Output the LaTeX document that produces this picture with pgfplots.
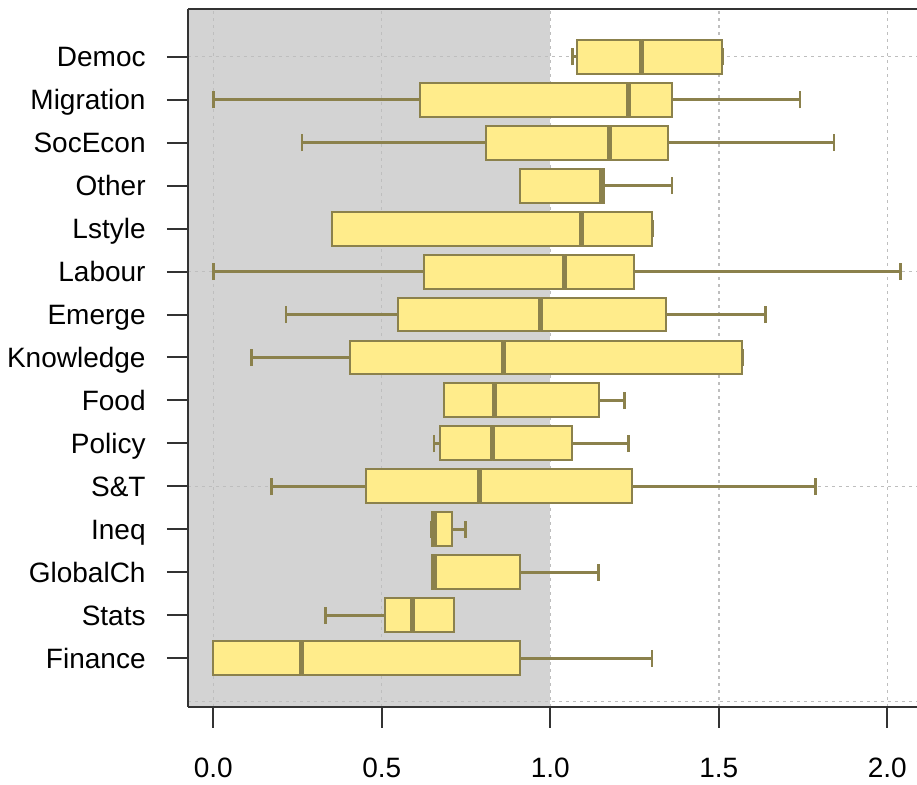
\documentclass[border=0pt]{standalone}
\usepackage{pgfplots}
\pgfplotsset{compat=1.18}
\usepgfplotslibrary{statistics}
\usepackage{fontspec}
\setmainfont{Liberation Sans}
\definecolor{boxfill}{HTML}{FFEC8B}
\definecolor{boxline}{HTML}{8B814C}
\definecolor{bggray}{HTML}{D3D3D3}
\definecolor{gridcol}{HTML}{BEBEBE}
\definecolor{axiscol}{HTML}{333333}
\begin{document}
\begin{tikzpicture}
\begin{axis}[
 scale only axis, width=364.5pt, height=349pt,
 xmin=-0.075, xmax=2.088, ymin=-0.133, ymax=16.11,
 axis x line*=bottom, axis y line*=left,
 axis on top,
 axis line style={line width=1pt, axiscol},
 tick align=outside, major tick length=10.5pt,
 tick style={line width=1pt, axiscol},
 xtick={0,0.5,1,1.5,2},
 x tick label style={/pgf/number format/fixed, /pgf/number format/fixed zerofill, /pgf/number format/precision=1},
 ytick={1,...,15},
 yticklabels={Finance, Stats, GlobalCh, Ineq, S\&T, Policy, Food, Knowledge, Emerge, Labour, Lstyle, Other, SocEcon, Migration, Democ},
 ticklabel style={font=\fontsize{14}{16}\selectfont, inner sep=0pt},
 yticklabel style={anchor=base east, xshift=-10.5pt, yshift=-5pt},
 xticklabel style={yshift=-15pt},
 /pgf/number format/assume math mode=true,
 boxplot/box extend=0.79, boxplot/whisker extend=0.4,
 boxplot/every median/.style={line width=2.5pt},
 boxplot/every whisker/.style={line width=1.4pt},
 boxplot/every box/.style={line width=1pt},
]
\fill[bggray] (axis cs:-0.075,-0.133) rectangle (axis cs:1,16.11);
\foreach \gx in {0,0.5,1,1.5,2} {
  \edef\tmp{\noexpand\draw[gridcol, line width=0.7pt, dash pattern=on 1.5pt off 2pt] (axis cs:\gx,-0.133) -- (axis cs:\gx,16.11);}\tmp
}
\foreach \gy in {0,5,10,15} {
  \edef\tmp{\noexpand\draw[gridcol, line width=0.7pt, dash pattern=on 1.5pt off 2pt] (axis cs:-0.075,\gy) -- (axis cs:2.088,\gy);}\tmp
}
\addplot[draw=boxline, fill=boxfill, boxplot prepared={draw position=1, lower whisker=0, lower quartile=0, median=0.262, upper quartile=0.910, upper whisker=1.302}] coordinates {};
\addplot[draw=boxline, fill=boxfill, boxplot prepared={draw position=2, lower whisker=0.334, lower quartile=0.511, median=0.591, upper quartile=0.714, upper whisker=0.714}] coordinates {};
\addplot[draw=boxline, fill=boxfill, boxplot prepared={draw position=3, lower whisker=0.650, lower quartile=0.650, median=0.657, upper quartile=0.910, upper whisker=1.142}] coordinates {};
\addplot[draw=boxline, fill=boxfill, boxplot prepared={draw position=4, lower whisker=0.648, lower quartile=0.648, median=0.655, upper quartile=0.709, upper whisker=0.749}] coordinates {};
\addplot[draw=boxline, fill=boxfill, boxplot prepared={draw position=5, lower whisker=0.173, lower quartile=0.452, median=0.791, upper quartile=1.243, upper whisker=1.788}] coordinates {};
\addplot[draw=boxline, fill=boxfill, boxplot prepared={draw position=6, lower whisker=0.655, lower quartile=0.673, median=0.827, upper quartile=1.065, upper whisker=1.231}] coordinates {};
\addplot[draw=boxline, fill=boxfill, boxplot prepared={draw position=7, lower whisker=0.685, lower quartile=0.685, median=0.833, upper quartile=1.143, upper whisker=1.219}] coordinates {};
\addplot[draw=boxline, fill=boxfill, boxplot prepared={draw position=8, lower whisker=0.114, lower quartile=0.406, median=0.862, upper quartile=1.570, upper whisker=1.570}] coordinates {};
\addplot[draw=boxline, fill=boxfill, boxplot prepared={draw position=9, lower whisker=0.216, lower quartile=0.548, median=0.970, upper quartile=1.343, upper whisker=1.639}] coordinates {};
\addplot[draw=boxline, fill=boxfill, boxplot prepared={draw position=10, lower whisker=0, lower quartile=0.626, median=1.041, upper quartile=1.248, upper whisker=2.038}] coordinates {};
\addplot[draw=boxline, fill=boxfill, boxplot prepared={draw position=11, lower whisker=0.352, lower quartile=0.352, median=1.093, upper quartile=1.303, upper whisker=1.303}] coordinates {};
\addplot[draw=boxline, fill=boxfill, boxplot prepared={draw position=12, lower whisker=0.910, lower quartile=0.910, median=1.153, upper quartile=1.159, upper whisker=1.361}] coordinates {};
\addplot[draw=boxline, fill=boxfill, boxplot prepared={draw position=13, lower whisker=0.263, lower quartile=0.808, median=1.177, upper quartile=1.350, upper whisker=1.842}] coordinates {};
\addplot[draw=boxline, fill=boxfill, boxplot prepared={draw position=14, lower whisker=0, lower quartile=0.613, median=1.231, upper quartile=1.362, upper whisker=1.741}] coordinates {};
\addplot[draw=boxline, fill=boxfill, boxplot prepared={draw position=15, lower whisker=1.065, lower quartile=1.080, median=1.272, upper quartile=1.510, upper whisker=1.510}] coordinates {};
\draw[line width=1pt, axiscol] (rel axis cs:0,1) -- (rel axis cs:1,1);
\coordinate (ll) at (rel axis cs:0,0);
\coordinate (ur) at (rel axis cs:1,1);
\end{axis}
\pgfresetboundingbox
\path[use as bounding box] ([xshift=-94pt,yshift=-39pt]ll) rectangle ([yshift=4.5pt]ur);
\end{tikzpicture}
\end{document}
